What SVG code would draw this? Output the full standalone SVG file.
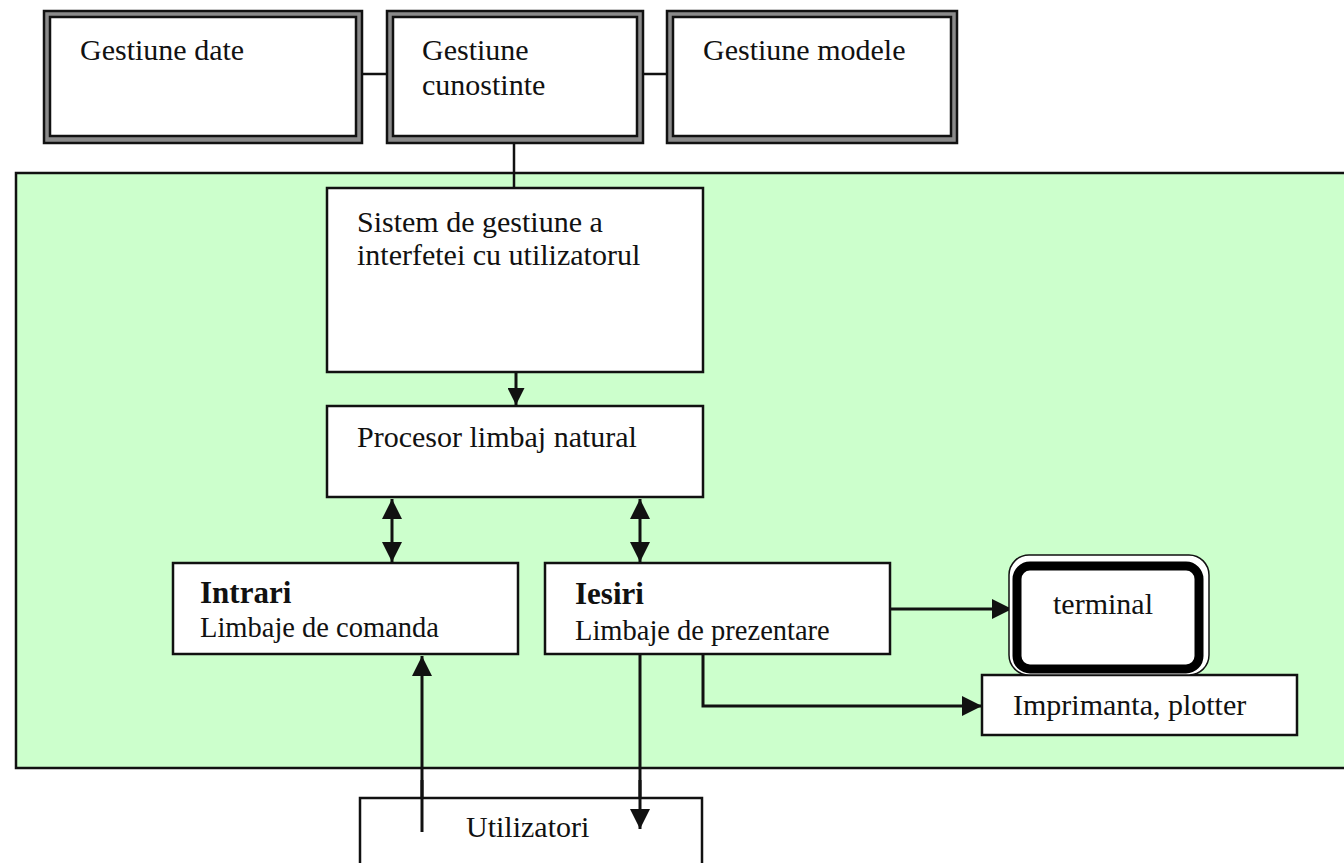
<svg xmlns="http://www.w3.org/2000/svg" width="1344" height="863" viewBox="0 0 1344 863">
  <style>
    .lbl { font-family: "Liberation Serif", "Times New Roman", serif; font-size: 30px; fill: #111; }
    .sub { font-family: "Liberation Serif", "Times New Roman", serif; font-size: 28.5px; fill: #111; }
    .bold { font-weight: bold; font-size: 31px; }
    .box { fill: #ffffff; stroke: #111; stroke-width: 2.5; }
    .frame-out { fill: #8a8a8a; stroke: #111; stroke-width: 2.5; }
    .frame-in { fill: #ffffff; stroke: #111; stroke-width: 2.5; }
    .link { fill: none; stroke: #111; stroke-width: 2.5; }
    .flow { fill: none; stroke: #111; stroke-width: 3; }
  </style>
  <defs>
    <marker id="head" viewBox="0 0 10 10" refX="10" refY="5" markerUnits="userSpaceOnUse" markerWidth="26" markerHeight="20" orient="auto-start-reverse">
      <path d="M0,0 L10,5 L0,10 z" fill="#111"/>
    </marker>
    <marker id="head-sm" viewBox="0 0 10 10" refX="10" refY="5" markerUnits="userSpaceOnUse" markerWidth="20" markerHeight="17" orient="auto-start-reverse">
      <path d="M0,0 L10,5 L0,10 z" fill="#111"/>
    </marker>
  </defs>

  <rect width="1344" height="863" fill="#ffffff"/>

  <!-- green interface panel -->
  <g id="panel">
    <rect x="16" y="173" width="1340" height="595" fill="#ccffcc" stroke="#111" stroke-width="2.5"/>
  </g>

  <!-- connectors -->
  <g id="connectors">
    <path class="link" d="M362,74 H387"/>
    <path class="link" d="M643,74 H667"/>
    <path class="link" d="M514,143 V188"/>
    <path class="flow" d="M516,372 V405" marker-end="url(#head-sm)"/>
    <path class="flow" d="M392,499 V562" marker-start="url(#head)" marker-end="url(#head)"/>
    <path class="flow" d="M640,499 V562" marker-start="url(#head)" marker-end="url(#head)"/>
    <path class="flow" d="M890,609 H1012" marker-end="url(#head)"/>
    <path class="flow" d="M703,654 V706 H982" marker-end="url(#head)"/>
    <path class="flow" d="M640,654 V829" marker-end="url(#head)"/>
    <path class="flow" d="M422,832 V656" marker-end="url(#head)"/>
  </g>

  <!-- top management blocks -->
  <g id="gestiune-date">
    <rect class="frame-out" x="44" y="11" width="318" height="132"/>
    <rect class="frame-in" x="50" y="17" width="306" height="119"/>
    <text class="lbl" x="80" y="60">Gestiune date</text>
  </g>
  <g id="gestiune-cunostinte">
    <rect class="frame-out" x="387" y="11" width="256" height="132"/>
    <rect class="frame-in" x="393" y="17" width="244" height="119"/>
    <text class="lbl" x="422" y="60">Gestiune</text>
    <text class="lbl" x="422" y="95">cunostinte</text>
  </g>
  <g id="gestiune-modele">
    <rect class="frame-out" x="667" y="11" width="290" height="132"/>
    <rect class="frame-in" x="673" y="17" width="278" height="119"/>
    <text class="lbl" x="703" y="60">Gestiune modele</text>
  </g>

  <!-- interface blocks -->
  <g id="sistem-gestiune">
    <rect class="box" x="327" y="188" width="376" height="184"/>
    <text class="lbl" x="357" y="232">Sistem de gestiune a</text>
    <text class="lbl" x="357" y="265">interfetei cu utilizatorul</text>
  </g>
  <g id="procesor">
    <rect class="box" x="327" y="406" width="376" height="91"/>
    <text class="lbl" x="357" y="447">Procesor limbaj natural</text>
  </g>
  <g id="intrari">
    <rect class="box" x="173" y="563" width="345" height="91"/>
    <text class="lbl bold" x="200" y="603">Intrari</text>
    <text class="sub" x="200" y="637">Limbaje de comanda</text>
  </g>
  <g id="iesiri">
    <rect class="box" x="545" y="563" width="345" height="91"/>
    <text class="lbl bold" x="575" y="604">Iesiri</text>
    <text class="sub" x="575" y="640">Limbaje de prezentare</text>
  </g>
  <g id="imprimanta">
    <rect class="box" x="982" y="675" width="315" height="60"/>
    <text class="lbl" x="1013" y="715">Imprimanta, plotter</text>
  </g>
  <g id="terminal">
    <rect x="1009" y="555" width="200" height="120" rx="20" fill="#ffffff" stroke="#111" stroke-width="1.5"/>
    <rect x="1017" y="566" width="182" height="103" rx="13" fill="#ffffff" stroke="#000" stroke-width="9"/>
    <text class="lbl" x="1053" y="614">terminal</text>
  </g>
  <g id="utilizatori">
    <rect class="box" x="360" y="798" width="342" height="80"/>
    <text class="lbl" x="466" y="837">Utilizatori</text>
  </g>
  <!-- arrow ends sit over the user box -->
  <g id="connectors-top">
    <path class="flow" d="M640,780 V829" marker-end="url(#head)"/>
    <path class="flow" d="M422,832 V780"/>
  </g>
</svg>
